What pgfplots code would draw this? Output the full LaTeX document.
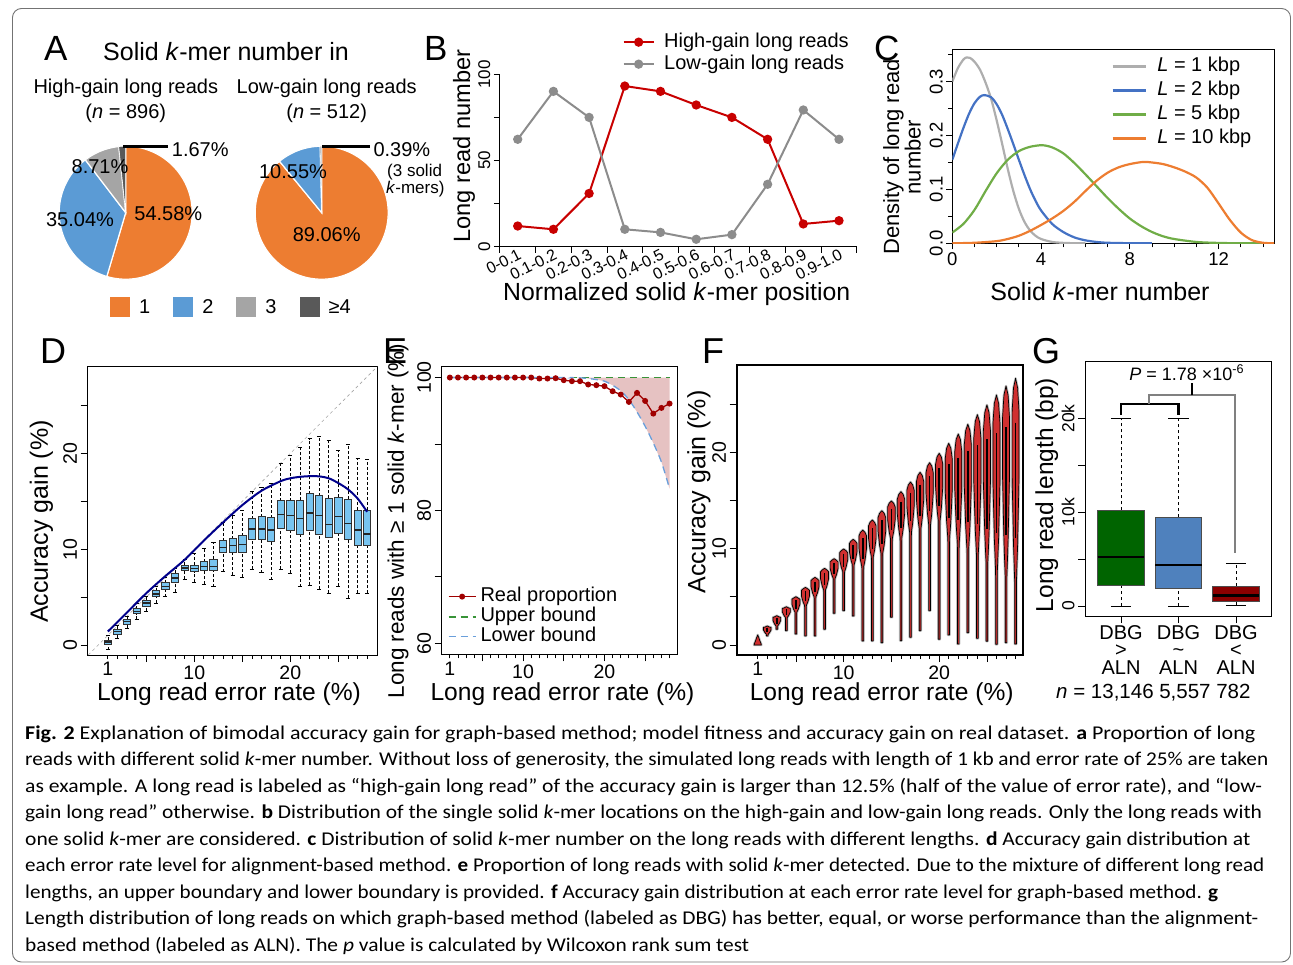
\documentclass[border=0pt]{standalone}
\usepackage{fontspec}
\setmainfont{Liberation Sans}
\newfontfamily\capfont{Carlito}
\usepackage{graphicx}
\usepackage{pgfplots}
\pgfplotsset{compat=1.18}
\newcommand\fs[1]{\fontsize{#1}{#1}\selectfont}
\definecolor{orA}{HTML}{ED7D31}
\definecolor{blA}{HTML}{5B9BD5}
\definecolor{grA}{HTML}{A5A5A5}
\definecolor{dkA}{HTML}{595959}
\definecolor{redB}{HTML}{C80000}
\definecolor{grayB}{HTML}{8C8C8C}
\definecolor{grC}{HTML}{AEAEAE}
\definecolor{blC}{HTML}{4472C4}
\definecolor{gnC}{HTML}{70AD47}
\definecolor{orC}{HTML}{ED7D31}
\definecolor{skyD}{HTML}{78C4F0}
\definecolor{navyD}{HTML}{00008B}
\definecolor{redE}{HTML}{A00000}
\definecolor{gnE}{HTML}{389438}
\definecolor{blE}{HTML}{6A9FDB}
\definecolor{pinkE}{HTML}{E6C2C2}
\definecolor{vred}{HTML}{D03030}
\definecolor{gnG}{HTML}{006400}
\definecolor{blG}{HTML}{4F81BD}
\definecolor{rdG}{HTML}{8B0000}
\tikzset{
  violin/.style={fill=vred, draw=black, line width=0.7pt, line join=round, preaction={draw=black!25, line width=2.4pt}},
  vline/.style={black, line width=1.6pt},
  whiskD/.style={black, densely dashed, line width=0.6pt},
  capD/.style={black, line width=0.8pt},
  boxD/.style={draw=black!80, line width=0.7pt},
  medD/.style={black!85, line width=1.5pt},
  whiskG/.style={black, dashed, line width=0.9pt},
  capG/.style={black, line width=1pt},
  boxG/.style={draw=black!70, line width=0.8pt},
  medG/.style={black, line width=2.5pt},
}
\pgfplotsset{
  base/.style={scale only axis, tick align=outside, axis line style={line width=0.8pt},
    tick style={black, line width=0.8pt}, major tick length=7pt, minor tick length=4pt,
    /pgf/number format/assume math mode=true, tick label style={font=\fs{19.5}},
    yticklabel style={rotate=90, anchor=south}, tick pos=left, scaled ticks=false},
}
\newcommand\violin[5]{%
 \pgfmathsetmacro\vD{#2-#3}%
 \pgfmathsetmacro\vXa{#1+0.6*#5}\pgfmathsetmacro\vXam{#1-0.6*#5}%
 \pgfmathsetmacro\vYa{#2-0.04*\vD-0.08}%
 \pgfmathsetmacro\vXb{#1+#5}\pgfmathsetmacro\vXbm{#1-#5}%
 \pgfmathsetmacro\vYb{#2-0.15*\vD}%
 \pgfmathsetmacro\vYc{#2-0.45*\vD}%
 \pgfmathsetmacro\vYd{#2-0.75*\vD}%
 \pgfmathsetmacro\vXe{#1+0.25*#5}\pgfmathsetmacro\vXem{#1-0.25*#5}%
 \pgfmathsetmacro\vYe{#2-0.92*\vD}%
 \pgfmathsetmacro\vXf{#1+0.09}\pgfmathsetmacro\vXfm{#1-0.09}%
 \pgfmathsetmacro\vLa{#2-0.2*\vD}\pgfmathsetmacro\vLb{#2-0.72*\vD}%
 \edef\vtemp{\noexpand\addplot[violin] coordinates {(#1,#2) (\vXa,\vYa) (\vXb,\vYb) (\vXb,\vYc) (\vXa,\vYd) (\vXe,\vYe) (\vXf,#3) (\vXf,#4) (\vXfm,#4) (\vXfm,#3) (\vXem,\vYe) (\vXam,\vYd) (\vXbm,\vYc) (\vXbm,\vYb) (\vXam,\vYa)} -- cycle;
 \noexpand\addplot[vline] coordinates {(#1,\vLa) (#1,\vLb)};}%
 \vtemp}
\newcommand\mybox[8]{%
 \pgfmathsetmacro\bL{#1-\bhw}\pgfmathsetmacro\bR{#1+\bhw}%
 \pgfmathsetmacro\cL{#1-\chw}\pgfmathsetmacro\cR{#1+\chw}%
 \edef\btemp{%
  \noexpand\addplot[whisk#7] coordinates {(#1,#2) (#1,#3)};
  \noexpand\addplot[whisk#7] coordinates {(#1,#5) (#1,#6)};
  \noexpand\addplot[cap#7] coordinates {(\cL,#2) (\cR,#2)};
  \noexpand\addplot[cap#7] coordinates {(\cL,#6) (\cR,#6)};
  \noexpand\addplot[box#7,fill=#8] coordinates {(\bL,#3) (\bR,#3) (\bR,#5) (\bL,#5)} -- cycle;
  \noexpand\addplot[med#7] coordinates {(\bL,#4) (\bR,#4)};}%
 \btemp}
\newcommand\capline[3]{\node[anchor=base west, inner sep=0pt] at (25,-#1) {\resizebox{#2pt}{\height}{\capfont\fs{19.5}#3}};}
\begin{document}
\begin{tikzpicture}[x=1pt,y=1pt]
\useasboundingbox (0,0) rectangle (1293,-964);
\draw[black!55, line width=0.9pt, rounded corners=9pt] (12.5,-8.5) rectangle (1290.5,-962);

% ---------------- Panel A ----------------
\node[anchor=base west, inner sep=0, font=\fs{35}] at (44,-60) {A};
\node[anchor=base west, inner sep=0, font=\fs{25}] at (103,-60) {Solid \textit{k}-mer number in};
\node[anchor=base, inner sep=0, font=\fs{20}] at (125.8,-93.3) {High-gain long reads};
\node[anchor=base, inner sep=0, font=\fs{20}] at (125.8,-118.3) {(\textit{n} = 896)};
\node[anchor=base, inner sep=0, font=\fs{20}] at (326.7,-93.3) {Low-gain long reads};
\node[anchor=base, inner sep=0, font=\fs{20}] at (326.7,-118.3) {(\textit{n} = 512)};

\begin{axis}[scale only axis, hide axis, width=133pt, height=133pt, xmin=-1, xmax=1, ymin=-1, ymax=1,
  at={(59.2pt,-279.2pt)}, anchor=south west, clip=false,
  legend columns=4,
  legend style={draw=none, fill=none, at={(axis description cs:0.382,-0.209)}, anchor=west, inner sep=0pt,
    font=\fs{20}, /tikz/every odd column/.append style={column sep=7pt},
    /tikz/every even column/.append style={column sep=21pt}},
  legend image code/.code={\fill[#1, draw=none] (0pt,-10pt) rectangle (20pt,10pt);}]
\addplot[fill=orA, draw=white, line width=1.2pt, domain=-106.49:90, samples=100, variable=\t] ({cos(\t)},{sin(\t)}) -- (0,0) -- cycle;
\addlegendentry{1}
\addplot[fill=blA, draw=white, line width=1.2pt, domain=-232.63:-106.49, samples=70, variable=\t] ({cos(\t)},{sin(\t)}) -- (0,0) -- cycle;
\addlegendentry{2}
\addplot[fill=grA, draw=white, line width=1.2pt, domain=-263.99:-232.63, samples=20, variable=\t] ({cos(\t)},{sin(\t)}) -- (0,0) -- cycle;
\addlegendentry{3}
\addplot[fill=dkA, draw=white, line width=0.6pt, domain=-270:-263.99, samples=5, variable=\t] ({cos(\t)},{sin(\t)}) -- (0,0) -- cycle;
\addlegendentry{≥4}
\end{axis}

\begin{axis}[scale only axis, hide axis, width=133pt, height=133pt, xmin=-1, xmax=1, ymin=-1, ymax=1,
  at={(255.2pt,-279.2pt)}, anchor=south west, clip=false]
\addplot[fill=orA, draw=white, line width=1.2pt, domain=-230.62:90, samples=120, variable=\t] ({cos(\t)},{sin(\t)}) -- (0,0) -- cycle;
\addplot[fill=blA, draw=white, line width=1.2pt, domain=-268.6:-230.62, samples=20, variable=\t] ({cos(\t)},{sin(\t)}) -- (0,0) -- cycle;
\addplot[fill=grA, draw=white, line width=0.4pt, domain=-270:-268.6, samples=4, variable=\t] ({cos(\t)},{sin(\t)}) -- (0,0) -- cycle;
\end{axis}

\draw[black, line width=2.5pt] (123,-146.7) -- (168,-146.7);
\draw[black, line width=2.5pt] (322,-146.7) -- (370,-146.7);
\node[anchor=base west, inner sep=0, font=\fs{20}] at (171.7,-156) {1.67\%};
\node[anchor=base, inner sep=0, font=\fs{20}] at (100,-173.3) {8.71\%};
\node[anchor=base, inner sep=0, font=\fs{20}] at (80,-226.7) {35.04\%};
\node[anchor=base, inner sep=0, font=\fs{20}] at (168.3,-220) {54.58\%};
\node[anchor=base west, inner sep=0, font=\fs{20}] at (373.3,-156) {0.39\%};
\node[anchor=base, inner sep=0, font=\fs{20}] at (293,-178.3) {10.55\%};
\node[anchor=base, inner sep=0, font=\fs{20}] at (326.7,-241.7) {89.06\%};
\node[anchor=base west, inner sep=0, font=\fs{17}] at (387,-176.7) {(3 solid};
\node[anchor=base west, inner sep=0, font=\fs{17}] at (386,-193) {\textit{k}-mers)};

% ---------------- Panel B ----------------
\node[anchor=base west, inner sep=0, font=\fs{35}] at (424,-60) {B};
\begin{axis}[base, at={(499.85pt,-246.7pt)}, anchor=south west, width=357pt, height=172.4pt,
  xmin=0.5, xmax=10.5, ymin=0, ymax=100, axis x line*=bottom, axis y line*=left, clip=false,
  major tick length=6pt,
  xtick={0.5,1.5,...,10.5}, xticklabels={},
  extra x ticks={1,2,3,4,5,6,7,8,9,10},
  extra x tick labels={0-0.1,0.1-0.2,0.2-0.3,0.3-0.4,0.4-0.5,0.5-0.6,0.6-0.7,0.7-0.8,0.8-0.9,0.9-1.0},
  extra x tick style={major tick length=0pt, xticklabel style={rotate=27, anchor=north east, font=\fs{16}, inner sep=1pt}},
  ytick={0,25,50,75,100}, yticklabels={0,,50,,100}, yticklabel style={font=\fs{17}},
  legend cell align=left,
  legend style={draw=none, fill=none, at={(axis description cs:0.335,1.263)}, anchor=north west, row sep=0pt,
    font=\fs{20}, nodes={inner sep=1.5pt, text height=14.5pt, text depth=4.5pt},
    /tikz/every odd column/.append style={column sep=8pt}},
  legend image code/.code={\draw[mark repeat=2, mark phase=2, #1] plot coordinates {(0pt,0pt) (15pt,0pt) (30pt,0pt)};}]
\addplot[redB, line width=2pt, mark=*, mark size=3.6pt] coordinates {(1,12.0) (2,10.1) (3,30.9) (4,93.2) (5,90.1) (6,82.2) (7,75.0) (8,62.3) (9,13.2) (10,15.1)};
\addlegendentry{High-gain long reads}
\addplot[grayB, line width=2pt, mark=*, mark size=3.6pt] coordinates {(1,62.3) (2,90.1) (3,75.0) (4,10.1) (5,8.3) (6,4.3) (7,7.0) (8,36.2) (9,79.3) (10,62.3)};
\addlegendentry{Low-gain long reads}
\end{axis}
\node[rotate=90, inner sep=0, font=\fs{23.6}] at (464,-146) {Long read number};
\node[anchor=base, inner sep=0, font=\fs{24.8}] at (676.7,-300) {Normalized solid \textit{k}-mer position};

% ---------------- Panel C ----------------
\node[anchor=base west, inner sep=0, font=\fs{35}] at (874,-60) {C};
\begin{axis}[base, at={(952.3pt,-243.3pt)}, anchor=south west, width=321.7pt, height=194pt,
  xmin=0, xmax=14.5, ymin=0, ymax=0.36, xtick={0,4,8,12}, minor xtick={1,2,3,5,6,7,9,10,11,13,14},
  ytick={0,0.1,0.2,0.3}, yticklabels={0.0,0.1,0.2,0.3}, minor ytick={0.05,0.15,0.25,0.35},
  tick label style={font=\fs{18.5}}, major tick length=6pt,
  legend cell align=left,
  legend style={draw=none, fill=none, at={(axis description cs:0.485,0.985)}, anchor=north west, row sep=0pt,
    font=\fs{20}, nodes={inner sep=2.6pt, text height=14.6pt, text depth=4.2pt},
    /tikz/every odd column/.append style={column sep=8pt}},
  legend image code/.code={\draw[#1] (0pt,0pt) -- (33pt,0pt);}]
\addplot[grC, line width=2.2pt, smooth] coordinates {(0,0.300) (0.25,0.325) (0.5,0.341) (0.65,0.345) (0.8,0.344) (1.0,0.337) (1.25,0.322) (1.5,0.298) (1.75,0.268) (2.0,0.228) (2.25,0.184) (2.5,0.138) (2.75,0.097) (3.0,0.064) (3.25,0.040) (3.5,0.024) (3.75,0.014) (4.0,0.008) (4.5,0.0025) (5.0,0.0008) (5.5,0.0002) (6,0)};
\addlegendentry{\textit{L} = 1 kbp}
\addplot[blC, line width=2.2pt, smooth] coordinates {(0,0.155) (0.25,0.185) (0.5,0.214) (0.75,0.240) (1.0,0.260) (1.25,0.272) (1.45,0.275) (1.75,0.271) (2.0,0.258) (2.25,0.238) (2.5,0.212) (2.75,0.184) (3.0,0.155) (3.25,0.127) (3.5,0.101) (3.75,0.079) (4.0,0.061) (4.5,0.036) (5.0,0.021) (5.5,0.011) (6.0,0.0055) (6.5,0.0025) (7,0.001) (8,0.0002) (9,0)};
\addlegendentry{\textit{L} = 2 kbp}
\addplot[gnC, line width=2.2pt, smooth] coordinates {(0,0.020) (0.5,0.036) (1,0.062) (1.5,0.097) (2,0.130) (2.5,0.155) (3,0.171) (3.5,0.179) (4.05,0.182) (4.5,0.178) (5,0.167) (5.5,0.149) (6,0.128) (6.5,0.106) (7,0.084) (7.5,0.064) (8,0.046) (8.5,0.032) (9,0.021) (9.5,0.013) (10,0.008) (11,0.0025) (12,0.0007) (13,0.0001) (14,0)};
\addlegendentry{\textit{L} = 5 kbp}
\addplot[orC, line width=2.2pt, smooth] coordinates {(0,0) (1,0.001) (2,0.004) (2.5,0.008) (3,0.014) (3.5,0.023) (4,0.034) (4.5,0.046) (5,0.060) (5.5,0.077) (6,0.097) (6.5,0.116) (7,0.131) (7.5,0.141) (8,0.147) (8.6,0.151) (9,0.150) (9.5,0.147) (10,0.141) (10.5,0.133) (11,0.122) (11.5,0.103) (12,0.074) (12.5,0.044) (13,0.020) (13.5,0.006) (14,0.001) (14.5,0)};
\addlegendentry{\textit{L} = 10 kbp}
\end{axis}
\node[rotate=90, align=center, inner sep=0, font=\fontsize{22}{21.5}\selectfont] at (902,-157) {Density of long read\\number};
\node[anchor=base, inner sep=0, font=\fs{25}] at (1100,-300) {Solid \textit{k}-mer number};

% ---------------- Panel D ----------------
\node[anchor=base west, inner sep=0, font=\fs{36}] at (40,-363) {D};
\begin{axis}[base, at={(87.7pt,-655pt)}, anchor=south west, width=290pt, height=288.3pt,
  xmin=-1.1, xmax=29.1, ymin=-1.05, ymax=29.05,
  xtick={5,10,15,20,25}, xticklabels={,10,,20,}, extra x ticks={1}, extra x tick labels={1},
  extra x tick style={major tick length=4pt}, minor xtick={1,...,28},
  ytick={0,5,10,15,20,25}, yticklabels={0,,10,,20,}]
\addplot[black!35, dashed, line width=0.6pt] coordinates {(-1.05,-1.05) (29.05,29.05)};
\def\bhw{0.38}\def\chw{0.21}
\mybox{1}{-0.5}{0.1}{0.3}{0.5}{1.0}{D}{skyD}
\mybox{2}{0.7}{1.15}{1.4}{1.65}{2.0}{D}{skyD}
\mybox{3}{1.75}{2.2}{2.45}{2.7}{3.0}{D}{skyD}
\mybox{4}{2.7}{3.25}{3.5}{3.8}{4.35}{D}{skyD}
\mybox{5}{3.55}{4.05}{4.4}{4.7}{5.05}{D}{skyD}
\mybox{6}{4.35}{5.05}{5.3}{5.65}{6.1}{D}{skyD}
\mybox{7}{5.05}{5.8}{6.1}{6.5}{7.05}{D}{skyD}
\mybox{8}{5.5}{6.55}{7.0}{7.5}{8.0}{D}{skyD}
\mybox{9}{6.85}{7.75}{8.05}{8.35}{8.95}{D}{skyD}
\mybox{10}{6.55}{7.65}{8.0}{8.35}{9.55}{D}{skyD}
\mybox{11}{6.35}{7.8}{8.2}{8.7}{10.1}{D}{skyD}
\mybox{12}{6.1}{7.8}{8.2}{8.95}{10.7}{D}{skyD}
\mybox{13}{7.65}{9.65}{10.2}{10.9}{12.8}{D}{skyD}
\mybox{14}{7.3}{9.65}{10.4}{11.1}{13.55}{D}{skyD}
\mybox{15}{7.05}{9.7}{10.5}{11.4}{14.0}{D}{skyD}
\mybox{16}{7.9}{11.0}{12.1}{13.2}{16.0}{D}{skyD}
\mybox{17}{7.55}{11.0}{12.1}{13.4}{16.5}{D}{skyD}
\mybox{18}{6.8}{10.8}{12.0}{13.3}{16.9}{D}{skyD}
\mybox{19}{7.9}{12.2}{13.6}{15.05}{18.95}{D}{skyD}
\mybox{20}{7.5}{11.95}{13.5}{15.05}{19.8}{D}{skyD}
\mybox{21}{6.1}{11.5}{13.2}{15.1}{20.6}{D}{skyD}
\mybox{22}{6.25}{12.0}{13.8}{15.8}{21.55}{D}{skyD}
\mybox{23}{5.8}{11.5}{13.5}{15.6}{21.75}{D}{skyD}
\mybox{24}{5.4}{11.25}{12.6}{15.3}{21.4}{D}{skyD}
\mybox{25}{6.15}{11.7}{13.4}{15.4}{20.35}{D}{skyD}
\mybox{26}{4.85}{11.0}{12.7}{15.25}{20.9}{D}{skyD}
\mybox{27}{5.4}{10.45}{12.0}{14.1}{19.5}{D}{skyD}
\mybox{28}{5.4}{10.45}{11.6}{14.1}{19.4}{D}{skyD}
\addplot[navyD, line width=2pt, smooth] coordinates {(1,1.4) (3,3.4) (5,5.4) (7,7.2) (9,8.9) (11,10.9) (13,12.8) (15,14.6) (17,16.1) (19,17.1) (20,17.4) (21,17.55) (22,17.62) (23,17.6) (24,17.4) (25,16.9) (26,16.25) (27,15.3) (28,13.9)};
\end{axis}
\node[rotate=90, inner sep=0, font=\fs{25}] at (41.5,-521.5) {Accuracy gain (\%)};
\node[anchor=base, inner sep=0, font=\fs{24.6}] at (229,-700) {Long read error rate (\%)};

% ---------------- Panel E ----------------
\node[anchor=base west, inner sep=0, font=\fs{36}] at (383,-363) {E};
\begin{axis}[base, at={(441.7pt,-654.3pt)}, anchor=south west, width=236pt, height=287.6pt,
  xmin=0, xmax=29, ymin=58.34, ymax=101.63,
  xtick={5,10,15,20,25}, xticklabels={,10,,20,}, extra x ticks={1}, extra x tick labels={1},
  extra x tick style={major tick length=4pt}, minor xtick={1,...,28},
  ytick={60,70,80,90,100}, yticklabels={60,,80,,100},
  legend cell align=left,
  legend style={draw=none, fill=none, at={(axis description cs:0.012,0.243)}, anchor=north west, row sep=0pt,
    font=\fs{20}, nodes={inner sep=1pt, text height=14pt, text depth=4pt},
    /tikz/every odd column/.append style={column sep=3pt}},
  legend image code/.code={\draw[mark repeat=2, mark phase=2, #1] plot coordinates {(0pt,0pt) (13.5pt,0pt) (27pt,0pt)};}]
\addplot[fill=pinkE, draw=none, forget plot] coordinates {(16,100) (28,100) (28,83.27) (27,87.29) (26,90.15) (25,92.66) (24,94.82) (23,96.68) (22,97.99) (21,98.84) (20,99.45) (19,99.7) (18,99.85) (17,99.95) (16,99.98)} -- cycle;
\addplot[redE, line width=1.3pt, mark=*, mark size=2.3pt] coordinates {(1,100) (2,100) (3,100) (4,100) (5,100) (6,100) (7,100) (8,100) (9,100) (10,100) (11,100) (12,99.85) (13,99.85) (14,99.9) (15,99.6) (16,99.45) (17,99.45) (18,98.95) (19,98.85) (20,98.7) (21,97.94) (22,97.44) (23,96.33) (24,97.69) (25,96.48) (26,94.57) (27,95.43) (28,96.08)};
\addlegendentry{Real proportion}
\addplot[gnE, line width=1.8pt, dash pattern=on 7pt off 5pt] coordinates {(1,100) (28,100)};
\addlegendentry{Upper bound}
\addplot[blE, line width=1.3pt, dash pattern=on 7pt off 5pt, smooth] coordinates {(1,100) (15,100) (16,99.98) (17,99.95) (18,99.85) (19,99.7) (20,99.45) (21,98.84) (22,97.99) (23,96.68) (24,94.82) (25,92.66) (26,90.15) (27,87.29) (28,83.27)};
\addlegendentry{Lower bound}
\end{axis}
\node[rotate=90, inner sep=0, font=\fs{22.5}] at (398,-521) {Long reads with ≥ 1 solid \textit{k}-mer (\%)};
\node[anchor=base, inner sep=0, font=\fs{24.6}] at (562.5,-700) {Long read error rate (\%)};

% ---------------- Panel F ----------------
\node[anchor=base west, inner sep=0, font=\fs{36}] at (702,-363) {F};
\begin{axis}[base, at={(736.7pt,-655pt)}, anchor=south west, width=286.6pt, height=290pt,
  xmin=-1.2, xmax=28.81, ymin=-1.04, ymax=29.1, axis line style={line width=2pt},
  xtick={5,10,15,20,25}, xticklabels={,10,,20,}, extra x ticks={1}, extra x tick labels={1},
  extra x tick style={major tick length=4pt}, minor xtick={1,...,28},
  ytick={0,5,10,15,20,25}, yticklabels={0,,10,,20,}]
\addplot[violin] coordinates {(1,1.05) (1.1,0.8) (1.22,0.45) (1.36,0.12) (1.38,0.0) (0.62,0.0) (0.64,0.12) (0.78,0.45) (0.9,0.8)} -- cycle;
\violin{2}{1.98}{1.05}{0.94}{0.40}
\violin{3}{3.05}{1.9}{1.63}{0.40}
\violin{4}{3.98}{2.77}{1.49}{0.42}
\violin{5}{5.02}{3.29}{1.14}{0.42}
\violin{6}{5.99}{3.98}{0.94}{0.42}
\violin{7}{7.03}{4.85}{0.94}{0.42}
\violin{8}{7.97}{5.54}{1.63}{0.42}
\violin{9}{8.97}{6.76}{3.29}{0.42}
\violin{10}{9.98}{7.45}{3.57}{0.42}
\violin{11}{10.98}{8.14}{3.01}{0.40}
\violin{12}{11.95}{7.8}{0.42}{0.40}
\violin{13}{12.99}{8.84}{0.42}{0.40}
\violin{14}{13.96}{9.18}{0.24}{0.40}
\violin{15}{14.97}{10.74}{2.88}{0.40}
\violin{16}{15.94}{10.74}{0.45}{0.38}
\violin{17}{16.94}{11.26}{0.80}{0.38}
\violin{18}{17.95}{11.6}{1.49}{0.38}
\violin{19}{18.95}{11.95}{3.57}{0.38}
\violin{20}{19.92}{12.3}{0.59}{0.38}
\violin{21}{20.96}{10.2}{1.04}{0.37}
\violin{22}{21.93}{9.5}{0.10}{0.37}
\violin{23}{22.94}{8.8}{1.28}{0.37}
\violin{24}{23.94}{8.1}{0.69}{0.37}
\violin{25}{24.95}{7.1}{0.40}{0.37}
\violin{26}{25.99}{6.1}{0.07}{0.37}
\violin{27}{26.92}{5.4}{0.24}{0.36}
\violin{28}{27.72}{4.7}{0.10}{0.36}
\end{axis}
\node[rotate=90, inner sep=0, font=\fs{25}] at (699,-492) {Accuracy gain (\%)};
\node[anchor=base, inner sep=0, font=\fs{24.6}] at (881.7,-700) {Long read error rate (\%)};

% ---------------- Panel G ----------------
\node[anchor=base west, inner sep=0, font=\fs{36}] at (1032,-363) {G};
\begin{axis}[base, at={(1085pt,-616pt)}, anchor=south west, width=186.7pt, height=254.3pt,
  xmin=0.374, xmax=3.62, ymin=-1066, ymax=26050, clip=false,
  ytick={0,5000,10000,15000,20000}, yticklabels={0,,10k,,20k}, yticklabel style={font=\fs{17.5}},
  xtick={1,2,3}, xticklabels={{DBG\\>\\ALN},{DBG\\\textasciitilde\\ALN},{DBG\\<\\ALN}},
  xticklabel style={align=center, font=\fontsize{20}{17.5}\selectfont, inner sep=2pt}]
\def\bhw{0.405}\def\chw{0.175}
\mybox{1}{0}{2240}{5220}{10200}{20000}{G}{gnG}
\mybox{2}{0}{1880}{4370}{9480}{20000}{G}{blG}
\mybox{3}{100}{460}{1100}{2130}{4550}{G}{rdG}
\draw[black, line width=2.5pt] (1,20360) -- (1,21530) -- (2,21530) -- (2,20360);
\draw[black!50, line width=1.8pt] (1.493,21530) -- (1.493,22490) -- (2.983,22490) -- (2.983,5610);
\draw[black, line width=2.5pt] (2.235,22490) -- (2.235,23730);
\end{axis}
\node[anchor=base, inner sep=0, font=\fs{18}] at (1186.7,-380) {\textit{P} = 1.78 ×10\textsuperscript{-6}};
\node[rotate=90, inner sep=0, font=\fs{24.5}] at (1046.7,-495) {Long read length (bp)};
\node[anchor=base west, inner sep=0, font=\fs{20.5}] at (1056,-698.3) {\textit{n} = 13,146 5,557 782};

% ---------------- Caption ----------------
\capline{739}{1230}{\textbf{Fig. 2} Explanation of bimodal accuracy gain for graph-based method; model fitness and accuracy gain on real dataset. \textbf{a} Proportion of long}
\capline{765}{1243}{reads with different solid \textit{k}-mer number. Without loss of generosity, the simulated long reads with length of 1 kb and error rate of 25\% are taken}
\capline{792}{1237}{as example. A long read is labeled as “high-gain long read” of the accuracy gain is larger than 12.5\% (half of the value of error rate), and “low-}
\capline{818}{1237}{gain long read” otherwise. \textbf{b} Distribution of the single solid \textit{k}-mer locations on the high-gain and low-gain long reads. Only the long reads with}
\capline{845}{1225}{one solid \textit{k}-mer are considered. \textbf{c} Distribution of solid \textit{k}-mer number on the long reads with different lengths. \textbf{d} Accuracy gain distribution at}
\capline{871}{1239}{each error rate level for alignment-based method. \textbf{e} Proportion of long reads with solid \textit{k}-mer detected. Due to the mixture of different long read}
\capline{898}{1193}{lengths, an upper boundary and lower boundary is provided. \textbf{f} Accuracy gain distribution at each error rate level for graph-based method. \textbf{g}}
\capline{924}{1233}{Length distribution of long reads on which graph-based method (labeled as DBG) has better, equal, or worse performance than the alignment-}
\capline{951}{724}{based method (labeled as ALN). The \textit{p} value is calculated by Wilcoxon rank sum test}
\end{tikzpicture}
\end{document}
